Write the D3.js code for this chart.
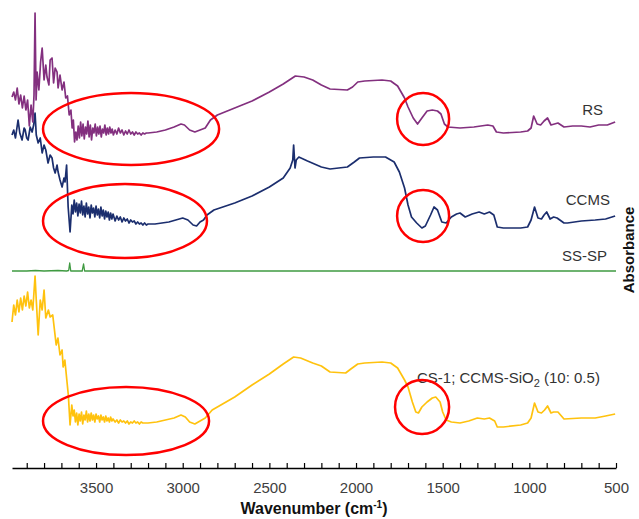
<!DOCTYPE html>
<html>
<head>
<meta charset="utf-8">
<script src="https://cdn.jsdelivr.net/npm/d3@7"></script>
<style>
  body { margin: 0; background: #fff; }
  svg { display: block; font-family: "Liberation Sans", Arial, sans-serif; }
</style>
</head>
<body>
<div id="chart"></div>
<script>
// FTIR spectra, absorbance (a.u., offset-stacked) vs wavenumber (cm-1)
// each spectrum is kept in three pieces: noisy high-wn head, O-H noise band, fingerprint tail
var rsWnHead = [3985,3975,3965,3955,3945,3935,3925,3915,3905,3895,3885,3875,3865,3858,3852,3846,3840,3830,3820,3811,3800,3790,3783,3772,3765,3754,3745,3736,3725,3719,3708,3696,3685,3675,3665,3655,3645];
var rsAbsHead = [3.71,3.76,3.68,3.80,3.64,3.73,3.60,3.72,3.58,3.68,3.42,3.63,3.46,3.73,4.55,3.68,3.96,3.78,4.06,4.20,3.88,4.03,3.91,3.83,4.08,4.10,3.85,4.00,3.96,3.80,3.93,3.78,3.86,3.70,3.72,3.53,3.58];
var rsWnBand = [3638,3631,3624,3617,3610,3603,3596,3589,3582,3575,3568,3561,3554,3547,3540,3533,3526,3519,3512,3505,3498,3491,3484,3477,3470,3463,3456,3449,3442,3435,3428,3421,3414,3407,3400,3390,3380,3370,3360,3350,3340,3330,3320,3310,3300,3290,3280,3270,3260,3250,3240,3230,3220,3210,3200];
var rsAbsBand = [3.40,3.48,3.26,3.36,3.28,3.42,3.30,3.46,3.32,3.44,3.29,3.41,3.34,3.47,3.31,3.43,3.28,3.40,3.35,3.44,3.32,3.41,3.34,3.42,3.31,3.39,3.35,3.43,3.33,3.40,3.34,3.41,3.35,3.39,3.33,3.38,3.34,3.40,3.35,3.38,3.33,3.37,3.34,3.38,3.34,3.36,3.33,3.36,3.34,3.35,3.33,3.35,3.34,3.35,3.35];
var rsWnTail = [3150,3100,3050,3010,2990,2960,2930,2900,2870,2840,2800,2700,2600,2500,2420,2350,2300,2250,2200,2150,2050,2020,1990,1950,1850,1800,1760,1720,1700,1670,1645,1620,1590,1560,1530,1510,1490,1470,1400,1320,1280,1240,1210,1190,1150,1050,1010,990,975,955,935,915,895,875,855,835,800,750,700,650,600,550,505];
var rsAbsTail = [3.36,3.38,3.41,3.44,3.43,3.38,3.36,3.38,3.40,3.48,3.53,3.60,3.67,3.76,3.84,3.92,3.91,3.88,3.83,3.79,3.78,3.81,3.86,3.87,3.88,3.87,3.82,3.70,3.61,3.50,3.44,3.50,3.57,3.58,3.57,3.54,3.44,3.41,3.40,3.41,3.42,3.43,3.42,3.36,3.35,3.36,3.37,3.40,3.52,3.44,3.43,3.47,3.50,3.43,3.44,3.45,3.41,3.42,3.42,3.41,3.43,3.43,3.46];

var ccmsWnHead = [3985,3975,3965,3950,3940,3927,3915,3909,3900,3892,3880,3869,3860,3852,3845,3834,3822,3811,3800,3790,3777,3765,3754,3745,3736,3725,3719,3708,3696,3685,3679,3670,3661,3650];
var ccmsAbsHead = [3.33,3.38,3.30,3.48,3.35,3.28,3.40,3.38,3.30,3.28,3.41,3.36,3.43,3.55,3.33,3.25,3.30,3.15,3.23,3.18,3.05,3.13,3.10,3.00,2.95,3.03,2.96,2.88,2.81,2.90,2.86,3.03,2.61,2.36];
var ccmsWnBand = [3640,3633,3626,3619,3612,3605,3598,3591,3584,3577,3570,3563,3556,3549,3542,3535,3528,3521,3514,3507,3500,3493,3486,3479,3472,3465,3458,3451,3444,3437,3430,3423,3416,3409,3402,3390,3380,3370,3360,3350,3340,3330,3320,3310,3300,3290,3280,3270,3260,3250,3240,3230,3220,3210,3200];
var ccmsAbsBand = [2.63,2.54,2.68,2.56,2.65,2.52,2.64,2.55,2.67,2.53,2.62,2.51,2.65,2.54,2.61,2.50,2.63,2.55,2.60,2.51,2.62,2.53,2.59,2.50,2.61,2.52,2.58,2.49,2.57,2.51,2.56,2.48,2.55,2.49,2.54,2.47,2.52,2.48,2.51,2.46,2.50,2.47,2.49,2.45,2.48,2.46,2.47,2.44,2.46,2.44,2.45,2.43,2.45,2.43,2.44];
var ccmsWnTail = [3160,3120,3080,3040,3000,2970,2940,2920,2900,2880,2860,2820,2700,2600,2500,2420,2380,2365,2360,2352,2345,2330,2280,2200,2150,2050,2010,1980,1900,1830,1780,1750,1720,1700,1680,1650,1620,1600,1570,1550,1530,1505,1480,1450,1420,1400,1370,1330,1290,1260,1230,1205,1185,1150,1050,1010,990,970,950,930,915,900,880,860,840,800,780,700,620,560,505];
var ccmsAbsTail = [2.44,2.45,2.46,2.48,2.50,2.48,2.43,2.42,2.46,2.48,2.53,2.58,2.65,2.72,2.81,2.90,3.00,3.08,3.23,3.00,3.08,3.11,3.07,3.01,2.99,3.01,3.06,3.10,3.11,3.11,3.06,2.96,2.80,2.63,2.51,2.45,2.40,2.42,2.53,2.61,2.58,2.46,2.45,2.51,2.54,2.55,2.51,2.54,2.56,2.54,2.56,2.53,2.41,2.40,2.40,2.41,2.48,2.61,2.50,2.49,2.53,2.56,2.49,2.51,2.50,2.45,2.45,2.47,2.48,2.49,2.52];

var sspWn = [3985,3900,3850,3800,3720,3670,3658,3652,3646,3580,3572,3566,3400,3000,2000,1000,500];
var sspAbs = [1.97,1.97,1.975,1.97,1.975,1.97,1.975,2.05,1.97,1.97,2.04,1.97,1.97,1.97,1.97,1.97,1.97];

var cs1WnHead = [3985,3975,3965,3955,3945,3935,3925,3915,3905,3895,3885,3875,3865,3852,3845,3834,3822,3811,3800,3790,3775,3765,3750,3740,3730,3720,3708,3696,3690,3680,3667,3660,3650];
var cs1AbsHead = [1.46,1.63,1.53,1.68,1.56,1.70,1.58,1.72,1.62,1.76,1.60,1.68,1.58,1.92,1.68,1.33,1.68,1.58,1.78,1.50,1.58,1.51,1.53,1.38,1.23,1.30,1.13,1.18,1.01,1.08,0.85,0.73,0.43];
var cs1WnBand = [3640,3633,3626,3619,3612,3605,3598,3591,3584,3577,3570,3563,3556,3549,3542,3535,3528,3521,3514,3507,3500,3493,3486,3479,3472,3465,3458,3451,3444,3437,3430,3423,3416,3409,3402,3390,3380,3370,3360,3350,3340,3330,3320,3310,3300,3290,3280,3270,3260,3250,3240,3230,3220,3210,3200];
var cs1AbsBand = [0.63,0.52,0.58,0.46,0.55,0.43,0.54,0.47,0.56,0.44,0.53,0.48,0.57,0.46,0.54,0.47,0.55,0.48,0.53,0.46,0.54,0.49,0.52,0.46,0.53,0.48,0.51,0.46,0.52,0.47,0.50,0.46,0.51,0.47,0.49,0.46,0.48,0.45,0.48,0.46,0.47,0.45,0.47,0.44,0.46,0.45,0.47,0.45,0.46,0.44,0.46,0.45,0.45,0.45,0.45];
var cs1WnTail = [3150,3100,3050,3010,2985,2960,2930,2900,2870,2830,2700,2600,2500,2420,2360,2320,2250,2200,2150,2060,2030,1990,1950,1850,1800,1760,1720,1700,1675,1655,1640,1620,1590,1560,1540,1515,1500,1480,1450,1400,1350,1300,1260,1230,1200,1185,1150,1050,1010,990,970,950,930,912,895,875,860,835,800,700,620,560,505];
var cs1AbsTail = [0.46,0.48,0.50,0.53,0.51,0.46,0.44,0.47,0.50,0.58,0.71,0.83,0.94,1.04,1.11,1.10,1.05,1.02,0.96,0.95,0.99,1.04,1.05,1.06,1.05,1.00,0.88,0.81,0.66,0.56,0.55,0.61,0.66,0.70,0.71,0.66,0.56,0.48,0.46,0.45,0.47,0.50,0.49,0.50,0.47,0.41,0.41,0.43,0.45,0.50,0.65,0.56,0.55,0.58,0.62,0.55,0.56,0.56,0.49,0.50,0.50,0.52,0.54];

var seriesNames = ["RS", "CCMS", "SS-SP", "CS-1"];
var seriesColors = ["#83307f", "#1b2e6e", "#3f9a41", "#ffc20e"];

// label anchors (wavenumber, absorbance) - text end / start
var labelWn = [575, 535, 552, 1648];
var labelAbs = [3.53, 2.63, 2.07, 0.85];

// red highlight ellipses: centre wn, centre abs, half width (wn), half height (abs)
var ringWn = [3298, 3333, 3327, 1613, 1613, 1619];
var ringAbs = [3.39, 2.47, 0.47, 3.49, 2.52, 0.61];
var ringRx = [508, 473, 479, 150, 150, 156];
var ringRy = [0.36, 0.37, 0.34, 0.26, 0.26, 0.27];

var xTicks = d3.range(500, 4000, 100);
var xLabels = [3500, 3000, 2500, 2000, 1500, 1000, 500];

var w = 639, h = 519;

var svg = d3.select("#chart").append("svg")
    .attr("width", w)
    .attr("height", h);

var xScale = d3.scaleLinear().domain([3985, 500]).range([12, 616]);
var yScale = d3.scaleLinear().domain([0, 4.68]).range([468, 0]);

var line = d3.line()
    .x(function(d) { return xScale(d[0]); })
    .y(function(d) { return yScale(d[1]); });

var allWn = [rsWnHead.concat(rsWnBand, rsWnTail),
             ccmsWnHead.concat(ccmsWnBand, ccmsWnTail),
             sspWn,
             cs1WnHead.concat(cs1WnBand, cs1WnTail)];
var allAbs = [rsAbsHead.concat(rsAbsBand, rsAbsTail),
              ccmsAbsHead.concat(ccmsAbsBand, ccmsAbsTail),
              sspAbs,
              cs1AbsHead.concat(cs1AbsBand, cs1AbsTail)];

// draw green first so it sits under the others
[2, 3, 1, 0].forEach(function(i) {
    var pts = d3.zip(allWn[i], allAbs[i]);
    svg.append("path")
        .datum(pts)
        .attr("d", line)
        .attr("fill", "none")
        .attr("stroke", seriesColors[i])
        .attr("stroke-width", i == 2 ? 1.3 : 1.7)
        .attr("stroke-linejoin", "round");
});

// x axis, ticks point inward
var xAxis = d3.axisBottom(xScale)
    .tickValues(xTicks)
    .tickSizeInner(-5)
    .tickSizeOuter(0)
    .tickPadding(14)
    .tickFormat(function(d) { return xLabels.indexOf(d) >= 0 ? d : ""; });

var gx = svg.append("g")
    .attr("transform", "translate(0," + yScale(0) + ")")
    .call(xAxis);
gx.select(".domain").attr("stroke", "#000").attr("stroke-width", 1.3);
gx.selectAll(".tick line").attr("stroke", "#000").attr("stroke-width", 1.2);
gx.selectAll(".tick text")
    .attr("font-size", 15)
    .attr("fill", "#404040")
    .attr("font-family", "Liberation Sans, Arial, sans-serif");

svg.append("text")
    .attr("x", (xScale.range()[0] + xScale.range()[1]) / 2)
    .attr("y", 514)
    .attr("text-anchor", "middle")
    .attr("font-size", 16)
    .attr("font-weight", "bold")
    .attr("fill", "#111")
    .html('Wavenumber (cm<tspan dy="-6" font-size="10">-1</tspan><tspan dy="6">)</tspan>');

svg.append("text")
    .attr("transform", "translate(634," + 250 + ") rotate(-90)")
    .attr("text-anchor", "middle")
    .attr("font-size", 15)
    .attr("font-weight", "bold")
    .attr("fill", "#111")
    .text("Absorbance");

// series labels
for (var i = 0; i < 3; i++) {
    svg.append("text")
        .attr("x", xScale(labelWn[i]))
        .attr("y", yScale(labelAbs[i]))
        .attr("text-anchor", "end")
        .attr("font-size", 15)
        .attr("fill", "#333")
        .text(seriesNames[i]);
}
svg.append("text")
    .attr("x", xScale(labelWn[3]))
    .attr("y", yScale(labelAbs[3]))
    .attr("font-size", 15)
    .attr("fill", "#333")
    .html('CS-1; CCMS-SiO<tspan dy="4" font-size="11">2</tspan><tspan dy="-4"> (10: 0.5)</tspan>');

// red highlight rings
svg.selectAll(".ring")
    .data(d3.range(ringWn.length))
    .enter().append("ellipse")
    .attr("class", "ring")
    .attr("cx", function(i) { return xScale(ringWn[i]); })
    .attr("cy", function(i) { return yScale(ringAbs[i]); })
    .attr("rx", function(i) { return xScale(ringWn[i] - ringRx[i]) - xScale(ringWn[i]); })
    .attr("ry", function(i) { return yScale(ringAbs[i] - ringRy[i]) - yScale(ringAbs[i]); })
    .attr("fill", "none")
    .attr("stroke", "#ff0000")
    .attr("stroke-width", 2.5);
</script>
</body>
</html>
